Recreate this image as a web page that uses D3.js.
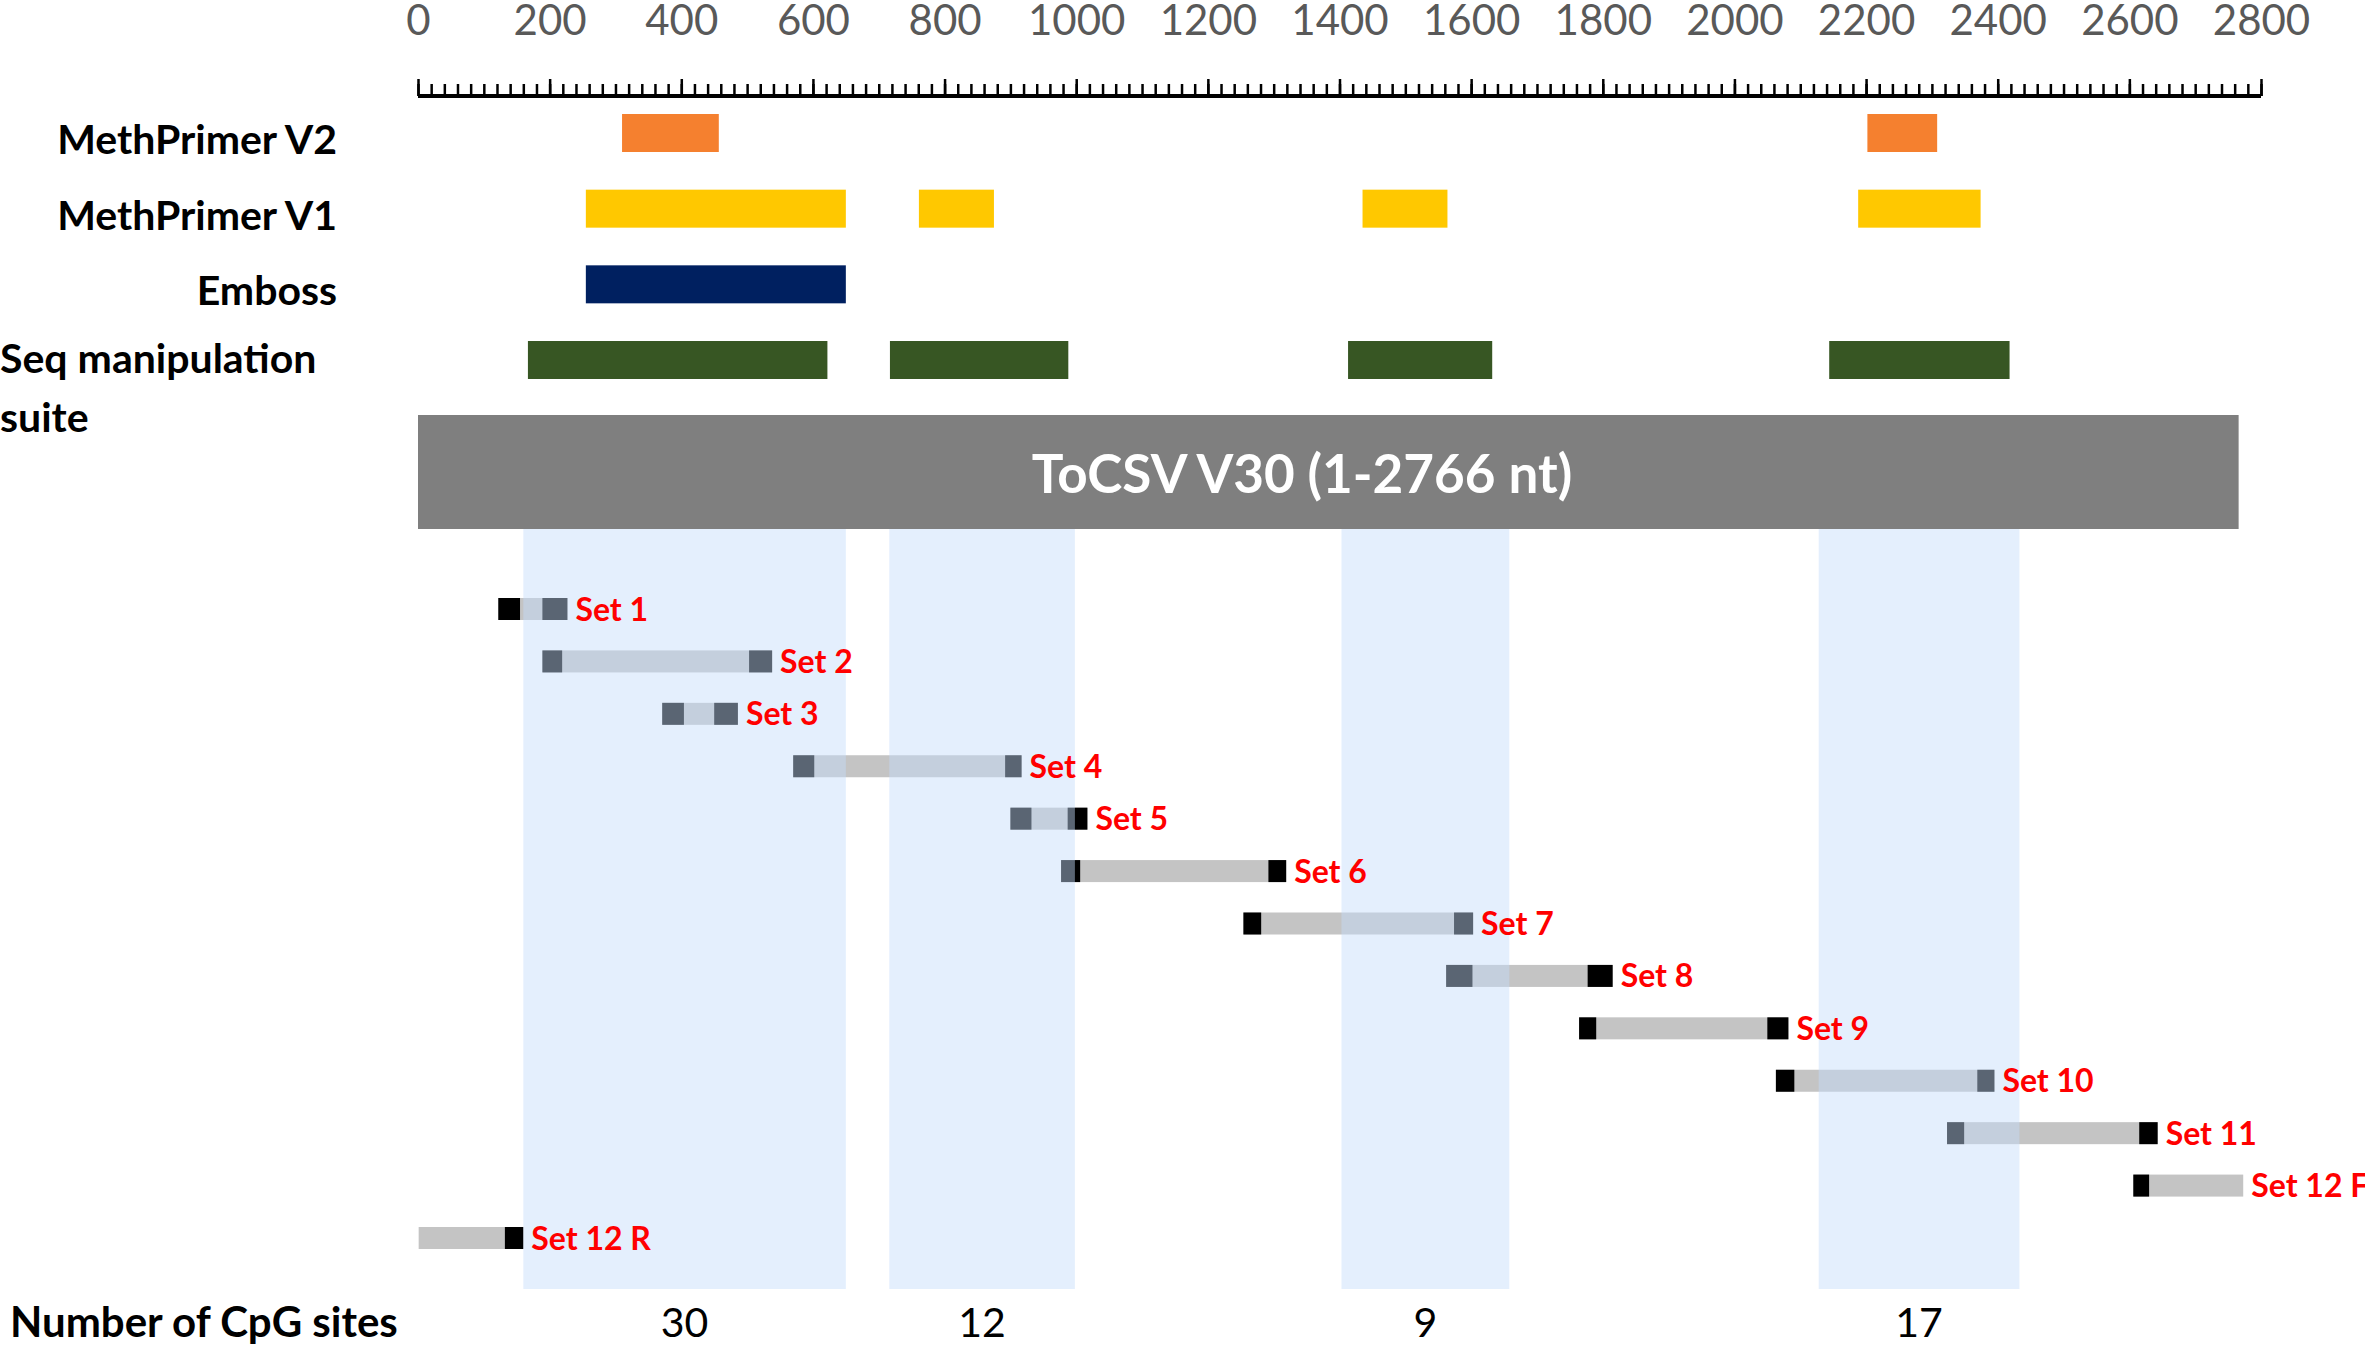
<!DOCTYPE html>
<html>
<head>
<meta charset="utf-8">
<script src="https://cdn.jsdelivr.net/npm/d3@7"></script>
<style>
  body { margin: 0; background: #fff; }
  svg { display: block; font-family: Lato, 'Open Sans', sans-serif; }
</style>
</head>
<body>
<div id="chart"></div>
<script>
// tools that predicted CpG islands, regions in nt
const tools = ['MethPrimer V2', 'MethPrimer V1', 'Emboss', 'Seq manipulation suite']
const toolRegions = [
  [[310, 457], [2202, 2308]],
  [[255, 650], [761, 875], [1435, 1564], [2188, 2374]],
  [[255, 650]],
  [[167, 622], [717, 988], [1413, 1632], [2144, 2418]]
]
const toolColors = ['#f5802f', '#ffc800', '#002060', '#375623']

// primer sets: amplicon span, forward and reverse primers (nt)
const setNames = ['Set 1', 'Set 2', 'Set 3', 'Set 4', 'Set 5', 'Set 6', 'Set 7',
  'Set 8', 'Set 9', 'Set 10', 'Set 11', 'Set 12 F', 'Set 12 R']
const amplicons = [[122, 227], [189, 538], [371, 486], [570, 917], [900, 1017],
  [977, 1319], [1254, 1603], [1562, 1815], [1764, 2082], [2063, 2395],
  [2323, 2643], [2606, 2773], [1, 160]]
const fwdPrimers = [[122, 155], [189, 219], [371, 404], [570, 602], [900, 932],
  [977, 1006], [1254, 1281], [1562, 1602], [1764, 1790], [2063, 2091],
  [2323, 2349], [2606, 2630], null]
const revPrimers = [[189, 227], [503, 538], [450, 486], [892, 917], [987, 1017],
  [1292, 1319], [1574, 1603], [1777, 1815], [2050, 2082], [2369, 2395],
  [2615, 2643], null, [132, 160]]

// consensus CpG regions and their CpG counts
const cpgRegions = [[160, 650], [716, 998], [1403, 1658], [2128, 2433]]
const cpgCounts = [30, 12, 9, 17]

const seqLength = 2766
const seqTitle = 'ToCSV V30 (1-2766 nt)'

const W = 2365
const H = 1349

const svg = d3.select('#chart')
  .append('svg')
  .attr('width', W)
  .attr('height', H)

const x = d3.scaleLinear().domain([0, 2800]).range([418, 2261])
const yTool = d3.scalePoint().domain(tools).range([133, 360])
const ySet = d3.scalePoint().domain(setNames).range([609, 1238])

// top ruler: minor ticks every 20 nt, major + labels every 200
const axisY = 96
svg.append('g')
  .attr('transform', `translate(0,${axisY})`)
  .call(d3.axisTop(x).tickValues(d3.range(0, 2801, 20)).tickSize(12).tickSizeOuter(0).tickFormat(''))
  .call(g => g.select('.domain').remove())
  .call(g => g.selectAll('.tick line').attr('stroke', '#000').attr('stroke-width', 2.5))

const major = svg.append('g')
  .attr('transform', `translate(0,${axisY})`)
  .call(d3.axisTop(x).tickValues(d3.range(0, 2801, 200)).tickSize(17).tickSizeOuter(0).tickPadding(44).tickFormat(d3.format('d')))

major.select('.domain').attr('stroke', '#000').attr('stroke-width', 4)
  .attr('d', `M${x(0)},0H${x(2800)}`)
major.selectAll('.tick line').attr('stroke', '#000').attr('stroke-width', 2.5)
major.selectAll('.tick text')
  .attr('fill', '#595959')
  .style('font-size', '42px')
  .style('font-family', 'Lato, sans-serif')

// tool rows
const barH = 38
tools.forEach((t, i) => {
  svg.append('g')
    .selectAll('rect')
    .data(toolRegions[i])
    .join('rect')
    .attr('x', d => x(d[0]))
    .attr('width', d => x(d[1]) - x(d[0]))
    .attr('y', yTool(t) - barH / 2)
    .attr('height', barH)
    .attr('fill', toolColors[i])
})

// tool labels
const lab = svg.append('g')
  .style('font-size', '41px')
  .style('font-weight', 'bold')
  .attr('fill', '#000')
tools.slice(0, 3).forEach(t => {
  lab.append('text')
    .attr('x', 337)
    .attr('y', yTool(t) + 21)
    .attr('text-anchor', 'end')
    .text(t)
})
lab.append('text')
  .attr('x', 0)
  .attr('y', yTool(tools[3]) + 13)
  .text('Seq manipulation')
lab.append('text')
  .attr('x', 0)
  .attr('y', yTool(tools[3]) + 72)
  .text('suite')

// sequence bar
svg.append('rect')
  .attr('x', x(0))
  .attr('width', x(seqLength) - x(0))
  .attr('y', 415)
  .attr('height', 114)
  .attr('fill', '#7f7f7f')

svg.append('text')
  .attr('x', 1302)
  .attr('y', 474)
  .attr('dy', '0.35em')
  .attr('text-anchor', 'middle')
  .attr('fill', '#fff')
  .style('font-size', '53px')
  .style('font-weight', 'bold')
  .text(seqTitle)

// primer sets
const setH = 22
const sets = svg.append('g')
setNames.forEach((s, i) => {
  const yc = ySet(s)
  sets.append('rect')
    .attr('x', x(amplicons[i][0]))
    .attr('width', x(amplicons[i][1]) - x(amplicons[i][0]))
    .attr('y', yc - setH / 2)
    .attr('height', setH)
    .attr('fill', '#c4c4c4')
  ;[fwdPrimers[i], revPrimers[i]].filter(p => p).forEach(p => {
    sets.append('rect')
      .attr('x', x(p[0]))
      .attr('width', x(p[1]) - x(p[0]))
      .attr('y', yc - setH / 2)
      .attr('height', setH)
      .attr('fill', '#000')
  })
})

// CpG regions drawn over the sets
const bandTop = 529
const bandBottom = 1289
svg.append('g')
  .selectAll('rect')
  .data(cpgRegions)
  .join('rect')
  .attr('x', d => x(d[0]))
  .attr('width', d => x(d[1]) - x(d[0]))
  .attr('y', bandTop)
  .attr('height', bandBottom - bandTop)
  .attr('fill', 'rgb(196,220,250)')
  .attr('fill-opacity', 0.46)

// set labels
svg.append('g')
  .selectAll('text')
  .data(setNames)
  .join('text')
  .attr('x', (d, i) => x(amplicons[i][1]) + 8)
  .attr('y', d => ySet(d))
  .attr('dy', '0.36em')
  .attr('fill', '#ff0000')
  .style('font-size', '32px')
  .style('font-weight', 'bold')
  .text(d => d)

// CpG counts
svg.append('text')
  .attr('x', 10)
  .attr('y', 1337)
  .style('font-size', '42px')
  .style('font-weight', 'bold')
  .text('Number of CpG sites')

svg.append('g')
  .selectAll('text')
  .data(cpgCounts)
  .join('text')
  .attr('x', (d, i) => x((cpgRegions[i][0] + cpgRegions[i][1]) / 2))
  .attr('y', 1337)
  .attr('text-anchor', 'middle')
  .style('font-size', '41px')
  .text(d => d)
</script>
</body>
</html>
